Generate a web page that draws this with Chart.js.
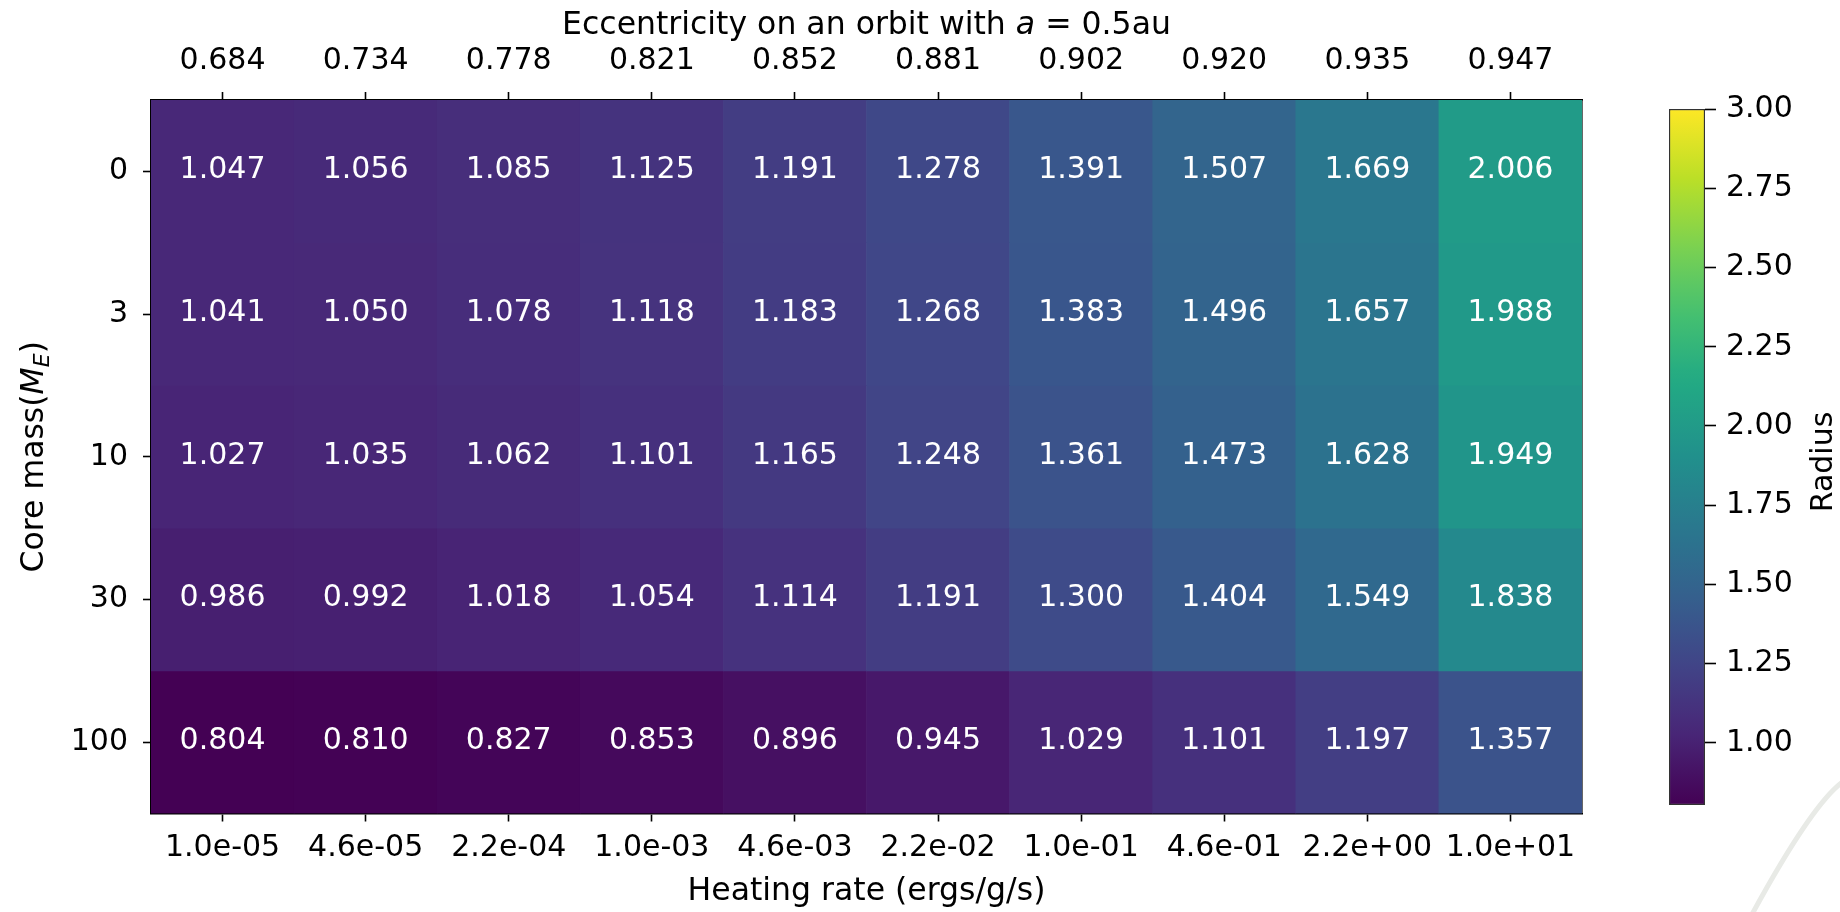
<!DOCTYPE html>
<html>
<head>
<meta charset="utf-8">
<script src="https://cdn.jsdelivr.net/npm/chart.js@4.4.0/dist/chart.umd.min.js"></script>
<style>
	html, body { margin: 0; padding: 0; background: #fff; }
	#wrap { position: relative; width: 1840px; height: 912px; }
	#heat { position: absolute; left: 0; top: 0; }
	#cbar { position: absolute; left: 1640px; top: 0; }
</style>
</head>
<body>
<div id="wrap">
	<canvas id="heat" width="1640" height="912"></canvas>
	<canvas id="cbar" width="200" height="912"></canvas>
</div>
<script>
// axis labels
var heatingRates = ['1.0e-05', '4.6e-05', '2.2e-04', '1.0e-03', '4.6e-03', '2.2e-02', '1.0e-01', '4.6e-01', '2.2e+00', '1.0e+01'];
var eccentricity = ['0.684', '0.734', '0.778', '0.821', '0.852', '0.881', '0.902', '0.920', '0.935', '0.947'];
var coreMass = ['0', '3', '10', '30', '100'];

// radius for each core mass row
var radiusCore0   = [1.047, 1.056, 1.085, 1.125, 1.191, 1.278, 1.391, 1.507, 1.669, 2.006];
var radiusCore3   = [1.041, 1.050, 1.078, 1.118, 1.183, 1.268, 1.383, 1.496, 1.657, 1.988];
var radiusCore10  = [1.027, 1.035, 1.062, 1.101, 1.165, 1.248, 1.361, 1.473, 1.628, 1.949];
var radiusCore30  = [0.986, 0.992, 1.018, 1.054, 1.114, 1.191, 1.300, 1.404, 1.549, 1.838];
var radiusCore100 = [0.804, 0.810, 0.827, 0.853, 0.896, 0.945, 1.029, 1.101, 1.197, 1.357];

// colorbar
var radiusTicks = [1.00, 1.25, 1.50, 1.75, 2.00, 2.25, 2.50, 2.75, 3.00];
var radiusMax = 3.0;

var rows = [radiusCore0, radiusCore3, radiusCore10, radiusCore30, radiusCore100];
var radiusMin = Math.min.apply(null, [].concat.apply([], rows));

var viridis = [
	[0.000, '#440154'], [0.100, '#482576'], [0.125, '#472D7B'], [0.200, '#414487'], [0.250, '#3B528B'],
	[0.300, '#35608D'], [0.375, '#2C728E'], [0.400, '#2A788E'], [0.500, '#21908C'], [0.600, '#22A884'],
	[0.625, '#27AD81'], [0.700, '#43BF71'], [0.750, '#5DC863'], [0.800, '#7AD151'], [0.875, '#AADC32'],
	[0.900, '#BBDF27'], [1.000, '#FDE725']
];

function hexRgb(h) {
	return [parseInt(h.substr(1, 2), 16), parseInt(h.substr(3, 2), 16), parseInt(h.substr(5, 2), 16)];
}

function colorAt(t) {
	t = Math.max(0, Math.min(1, t));
	for (var i = 1; i < viridis.length; i++) {
		if (t <= viridis[i][0]) {
			var a = viridis[i - 1], b = viridis[i];
			var f = (t - a[0]) / (b[0] - a[0]);
			var ca = hexRgb(a[1]), cb = hexRgb(b[1]);
			return 'rgb(' + ca.map(function(v, k) { return Math.round(v + (cb[k] - v) * f); }).join(',') + ')';
		}
	}
	return viridis[viridis.length - 1][1];
}

var FAMILY = "'DejaVu Sans', sans-serif";
var font = { family: FAMILY, size: 30 };
var titleFont = { family: FAMILY, size: 31.5 };
var INK = '#000';

// cell annotations
var cellLabels = {
	id: 'cellLabels',
	afterDatasetsDraw: function(chart) {
		var ctx = chart.ctx;
		ctx.save();
		ctx.font = '30px ' + FAMILY;
		ctx.fillStyle = '#fff';
		ctx.textAlign = 'center';
		ctx.textBaseline = 'middle';
		chart.data.datasets.forEach(function(ds, r) {
			chart.getDatasetMeta(r).data.forEach(function(bar, c) {
				var p = bar.getCenterPoint();
				ctx.fillText(ds.radius[c].toFixed(3), p.x, p.y - 1);
			});
		});
		ctx.restore();
	}
};

function runsWidth(ctx, runs) {
	var w = 0;
	runs.forEach(function(r) { ctx.font = r.font; w += ctx.measureText(r.text).width; });
	return w;
}

function drawRuns(ctx, runs, x, y) {
	runs.forEach(function(r) {
		ctx.font = r.font;
		ctx.fillText(r.text, x, y + (r.dy || 0));
		x += ctx.measureText(r.text).width;
	});
}

// titles with math parts
var mathTitles = {
	id: 'mathTitles',
	afterDraw: function(chart) {
		var ctx = chart.ctx;
		var area = chart.chartArea;
		var F = '31.5px ' + FAMILY;
		var FI = 'italic 31.5px ' + FAMILY;
		ctx.save();
		ctx.fillStyle = INK;
		ctx.textAlign = 'left';
		ctx.textBaseline = 'alphabetic';

		var top = [
			{ text: 'Eccentricity on an orbit with ', font: F },
			{ text: 'a', font: FI },
			{ text: ' = 0.5', font: F },
			{ text: 'au', font: F }
		];
		var cx = (area.left + area.right) / 2;
		drawRuns(ctx, top, cx - runsWidth(ctx, top) / 2, 34);

		var left = [
			{ text: 'Core mass(', font: F },
			{ text: 'M', font: FI },
			{ text: 'E', font: 'italic 22px ' + FAMILY, dy: 6 },
			{ text: ')', font: F }
		];
		var cy = (area.top + area.bottom) / 2;
		ctx.translate(43, cy);
		ctx.rotate(-Math.PI / 2);
		drawRuns(ctx, left, -runsWidth(ctx, left) / 2, 0);
		ctx.restore();
	}
};

var tickGrid = { display: true, drawOnChartArea: false, offset: false, tickLength: 8, tickWidth: 1.6, tickColor: INK };
var frame = { display: true, color: INK, width: 1.6 };

new Chart(document.getElementById('heat'), {
	type: 'bar',
	data: {
		labels: heatingRates,
		datasets: rows.map(function(row, r) {
			return {
				label: coreMass[r],
				data: row.map(function() { return 1; }),
				radius: row,
				backgroundColor: row.map(function(v) { return colorAt((v - radiusMin) / (radiusMax - radiusMin)); }),
				borderWidth: 0,
				barPercentage: 1,
				categoryPercentage: 1,
				stack: 'grid'
			};
		})
	},
	options: {
		responsive: false,
		animation: false,
		layout: { padding: 0 },
		plugins: { legend: { display: false }, tooltip: { enabled: false } },
		scales: {
			x: {
				position: 'bottom', stacked: true, offset: true,
				grid: tickGrid, border: frame,
				ticks: { color: INK, font: font, padding: 8.8, maxRotation: 0, autoSkip: false },
				title: { display: true, text: 'Heating rate (ergs/g/s)', color: INK, font: titleFont, padding: { top: 0, bottom: 1.6 } },
				afterFit: function(s) { s.height = 98.5; }
			},
			x2: {
				type: 'category', labels: eccentricity, position: 'top', offset: true,
				grid: tickGrid, border: frame,
				ticks: { color: INK, font: font, padding: 13, maxRotation: 0, autoSkip: false },
				afterFit: function(s) { s.height = 100; }
			},
			y: {
				position: 'left', stacked: true, reverse: true, min: 0, max: 5,
				afterBuildTicks: function(s) { s.ticks = coreMass.map(function(m, i) { return { value: i + 0.5 }; }); },
				grid: tickGrid, border: frame,
				ticks: { color: INK, font: font, padding: 15, callback: function(v, i) { return coreMass[i]; } },
				afterFit: function(s) { s.width = 151; }
			},
			y2: {
				type: 'linear', position: 'right', min: 0, max: 5,
				grid: { display: false }, border: frame,
				ticks: { display: false },
				afterFit: function(s) { s.width = 58; }
			}
		}
	},
	plugins: [cellLabels, mathTitles]
});

// colorbar label and the faint stroke in the corner
var cbarExtras = {
	id: 'cbarExtras',
	afterDraw: function(chart) {
		var ctx = chart.ctx;
		var area = chart.chartArea;
		ctx.save();
		ctx.strokeStyle = '#e8eae6';
		ctx.lineWidth = 5;
		ctx.beginPath();
		ctx.moveTo(110, 918);
		ctx.quadraticCurveTo(173, 802, 204, 781);
		ctx.stroke();

		ctx.fillStyle = INK;
		ctx.font = '30px ' + FAMILY;
		ctx.textAlign = 'center';
		ctx.textBaseline = 'alphabetic';
		ctx.translate(192, (area.top + area.bottom) / 2 + 5);
		ctx.rotate(-Math.PI / 2);
		ctx.fillText('Radius', 0, 0);
		ctx.restore();
	}
};

new Chart(document.getElementById('cbar'), {
	type: 'bar',
	data: {
		labels: ['Radius'],
		datasets: [{
			data: [[radiusMin, radiusMax]],
			backgroundColor: function(c) {
				var area = c.chart.chartArea;
				if (!area) return null;
				var g = c.chart.ctx.createLinearGradient(0, area.bottom, 0, area.top);
				viridis.forEach(function(s) { g.addColorStop(s[0], s[1]); });
				return g;
			},
			borderColor: '#333',
			borderWidth: 1.5,
			borderSkipped: false,
			barPercentage: 1,
			categoryPercentage: 1
		}]
	},
	options: {
		responsive: false,
		animation: false,
		layout: { padding: { left: 29, top: 109, bottom: 107, right: 0 } },
		plugins: { legend: { display: false }, tooltip: { enabled: false } },
		scales: {
			x: { display: false },
			y: {
				position: 'right', min: radiusMin, max: radiusMax,
				afterBuildTicks: function(s) { s.ticks = radiusTicks.map(function(v) { return { value: v }; }); },
				grid: { display: true, drawOnChartArea: false, tickLength: 11, tickWidth: 1.6, tickColor: INK },
				border: { display: false },
				ticks: { color: INK, font: font, padding: 10, callback: function(v, i) { return radiusTicks[i].toFixed(2); } },
				afterFit: function(s) { s.width = 135; }
			}
		}
	},
	plugins: [cbarExtras]
});
</script>
</body>
</html>
